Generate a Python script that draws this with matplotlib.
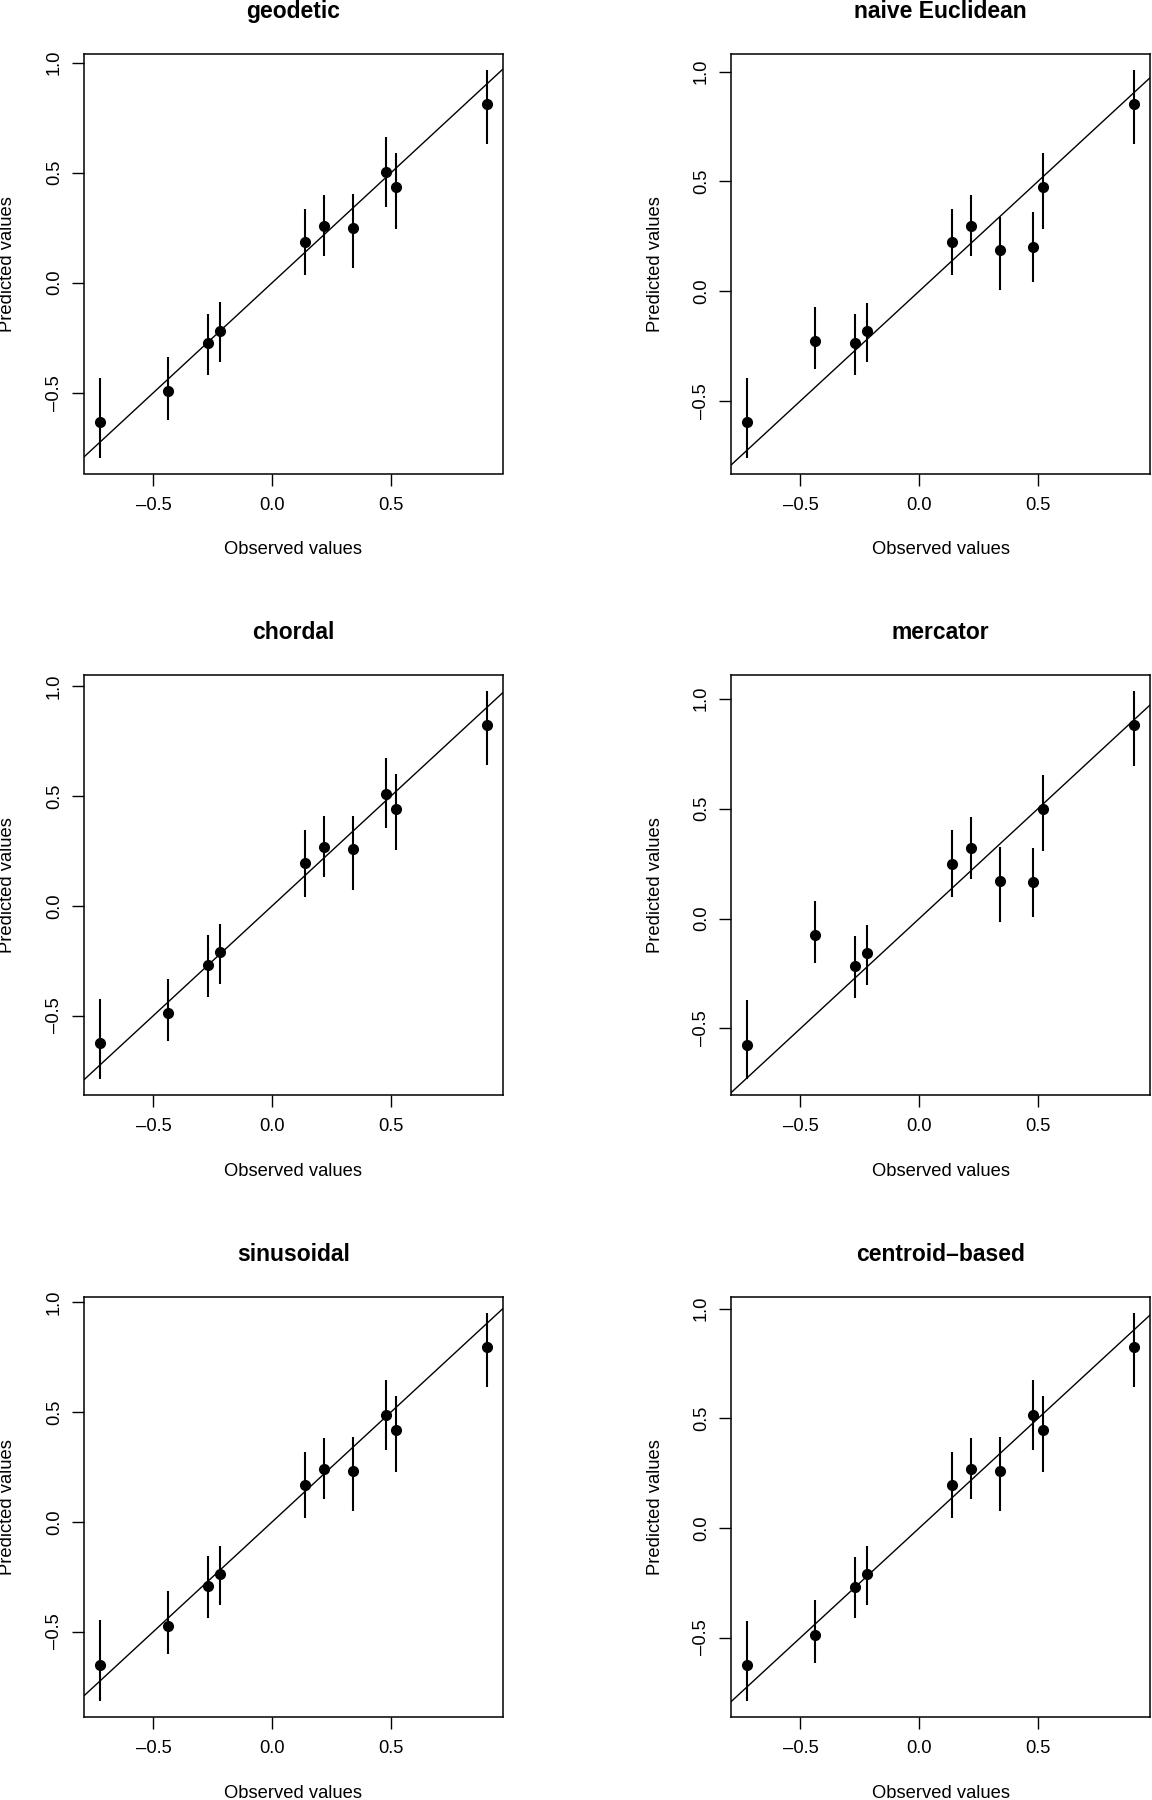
"""
Observed vs predicted values for six distance definitions, with
prediction intervals and the y = x reference line (R base-graphics look).
"""
import matplotlib

matplotlib.use("Agg")
import matplotlib.pyplot as plt

plt.rcParams["font.family"] = ["Liberation Sans", "DejaVu Sans"]

observed = [-0.727, -0.437, -0.269, -0.219, 0.139, 0.219, 0.338, 0.478, 0.519, 0.906]

geodetic_pred = [-0.632, -0.493, -0.274, -0.219, 0.184, 0.257, 0.248, 0.503, 0.434, 0.814]
geodetic_lo = [-0.797, -0.623, -0.420, -0.361, 0.033, 0.122, 0.066, 0.344, 0.245, 0.630]
geodetic_hi = [-0.432, -0.340, -0.142, -0.090, 0.337, 0.399, 0.403, 0.661, 0.590, 0.969]

naive_pred = [-0.595, -0.226, -0.237, -0.181, 0.223, 0.296, 0.188, 0.202, 0.473, 0.854]
naive_lo = [-0.760, -0.357, -0.383, -0.324, 0.071, 0.160, 0.003, 0.042, 0.284, 0.670]
naive_hi = [-0.395, -0.071, -0.104, -0.052, 0.376, 0.438, 0.339, 0.360, 0.630, 1.009]

chordal_pred = [-0.627, -0.487, -0.268, -0.210, 0.193, 0.266, 0.257, 0.511, 0.441, 0.824]
chordal_lo = [-0.791, -0.617, -0.414, -0.354, 0.042, 0.129, 0.073, 0.353, 0.252, 0.639]
chordal_hi = [-0.424, -0.332, -0.134, -0.083, 0.346, 0.407, 0.410, 0.671, 0.598, 0.978]

mercator_pred = [-0.575, -0.073, -0.214, -0.157, 0.247, 0.321, 0.171, 0.166, 0.498, 0.880]
mercator_lo = [-0.732, -0.204, -0.361, -0.301, 0.096, 0.181, -0.014, 0.007, 0.307, 0.695]
mercator_hi = [-0.371, 0.082, -0.080, -0.030, 0.401, 0.462, 0.324, 0.322, 0.653, 1.035]

sinusoidal_pred = [-0.652, -0.473, -0.294, -0.237, 0.167, 0.240, 0.231, 0.487, 0.417, 0.798]
sinusoidal_lo = [-0.816, -0.603, -0.438, -0.379, 0.016, 0.104, 0.049, 0.329, 0.228, 0.614]
sinusoidal_hi = [-0.449, -0.317, -0.158, -0.108, 0.320, 0.383, 0.386, 0.645, 0.574, 0.953]

centroid_pred = [-0.625, -0.486, -0.267, -0.209, 0.195, 0.268, 0.260, 0.516, 0.446, 0.828]
centroid_lo = [-0.789, -0.617, -0.411, -0.352, 0.044, 0.132, 0.077, 0.357, 0.256, 0.643]
centroid_hi = [-0.422, -0.329, -0.131, -0.080, 0.348, 0.411, 0.415, 0.674, 0.603, 0.983]

titles = ["geodetic", "naive Euclidean", "chordal", "mercator", "sinusoidal", "centroid\u2013based"]
panels = [
    (geodetic_pred, geodetic_lo, geodetic_hi),
    (naive_pred, naive_lo, naive_hi),
    (chordal_pred, chordal_lo, chordal_hi),
    (mercator_pred, mercator_lo, mercator_hi),
    (sinusoidal_pred, sinusoidal_lo, sinusoidal_hi),
    (centroid_pred, centroid_lo, centroid_hi),
]

x_ticks = [-0.5, 0.0, 0.5]
y_ticks = [-0.5, 0.0, 0.5, 1.0]


def tick_text(v):
    # R prints negative tick labels with a long dash
    return f"{v:.1f}".replace("-", "\u2013")


W, H = 1152, 1800
col_left = [84, 731]          # pixel left edge of each column's box
row_top = [54, 675.5, 1297]   # pixel top edge of each row's box
box_w, box_h = 419, 419.5

fig = plt.figure(figsize=(W / 100, H / 100), dpi=100)

for k, (title, (pred, lo, hi)) in enumerate(zip(titles, panels)):
    r, c = divmod(k, 2)
    left = col_left[c] / W
    bottom = 1 - (row_top[r] + box_h) / H
    ax = fig.add_axes([left, bottom, box_w / W, box_h / H])

    ax.vlines(observed, lo, hi, color="black", linewidth=1.5)
    ax.plot(observed, pred, "o", color="black", markersize=7)
    ax.axline((0, 0), slope=1, color="black", linewidth=1.0)
    ax.margins(0.04)

    ax.set_xticks(x_ticks, [tick_text(v) for v in x_ticks])
    ax.set_yticks(y_ticks, [tick_text(v) for v in y_ticks])
    ax.tick_params(direction="out", length=8.6, width=1.0,
                   labelsize=13.2, colors="black")
    ax.tick_params(axis="x", pad=8)
    ax.tick_params(axis="y", pad=6.5)
    plt.setp(ax.get_yticklabels(), rotation=90, va="center")
    for s in ax.spines.values():
        s.set_linewidth(1.1)

    ax.set_title(title, fontsize=16.5, fontweight="bold", pad=26)
    ax.set_xlabel("Observed values", fontsize=13.2, va="center")
    ax.set_ylabel("Predicted values", fontsize=13.2, va="center")
    ax.xaxis.set_label_coords(0.5, -76.5 / box_h)
    ax.yaxis.set_label_coords(-76 / box_w, 0.5)

fig.savefig("out.png", dpi=100)
